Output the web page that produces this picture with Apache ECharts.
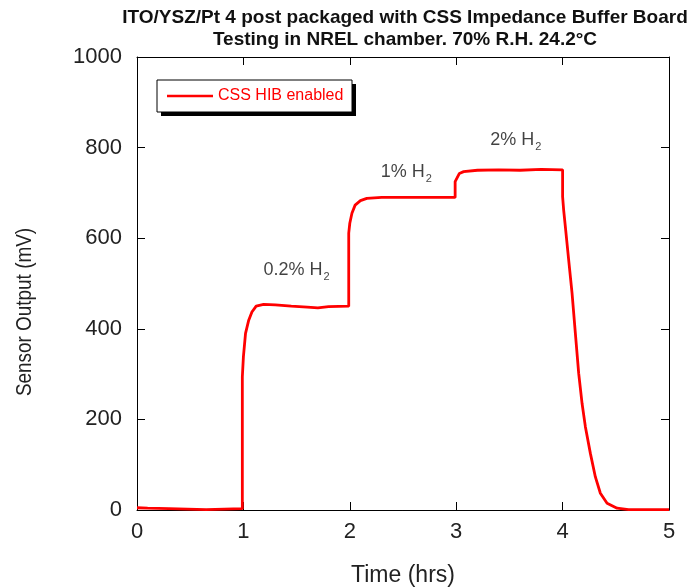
<!DOCTYPE html>
<html>
<head>
<meta charset="utf-8">
<script src="https://cdn.jsdelivr.net/npm/echarts@6/dist/echarts.min.js"></script>
<style>html,body{margin:0;padding:0;background:#fff}#c{width:690px;height:588px}</style>
</head>
<body>
<div id="c"></div>
<script>
// Time (hrs)
const times = [0, 0.1, 0.3, 0.31, 0.65, 0.66, 0.99, 0.99, 1.0, 1.02, 1.05, 1.08, 1.12, 1.19, 1.3, 1.45, 1.6, 1.7, 1.8, 1.99,
  1.99, 2.0, 2.02, 2.05, 2.1, 2.16, 2.3, 2.6, 2.8, 2.99,
  2.99, 3.03, 3.07, 3.2, 3.4, 3.6, 3.8, 4.0,
  4.0, 4.01, 4.026, 4.057, 4.089, 4.12, 4.151, 4.183, 4.214, 4.261, 4.308, 4.355, 4.418, 4.512, 4.62, 5.0];
// Sensor Output (mV)
const sensorMv = [5, 4, 3, 1, 1, 3, 3, 294, 338, 390, 419, 437, 450, 454, 453, 450, 448, 446, 449, 450,
  611, 633, 655, 673, 683, 688, 690, 690, 690, 690,
  725, 743, 747, 750, 751, 750, 752, 751,
  692, 662, 625, 552, 478, 390, 302, 235, 184, 125, 73, 37, 15, 4, 1, 1];
const seriesName = 'CSS HIB enabled';
const annLabels = ['0.2%', '1%', '2%'];
const annT = [1.5, 2.53, 3.56];
const annV = [530, 746, 817];

const chart = echarts.init(document.getElementById('c'));
const FONT = 'Liberation Sans, Arial, Helvetica, sans-serif';
const lineData = times.map((t, i) => [t, sensorMv[i]]);
const annData = annT.map((t, i) => ({ value: [t, annV[i]], name: annLabels[i] }));

const baseAxis = {
  axisLine: { show: true, onZero: false, lineStyle: { color: '#000', width: 1 } },
  axisTick: { show: true, inside: true, length: 8, lineStyle: { color: '#000' } },
  splitLine: { show: false }
};

chart.setOption({
  animation: false,
  backgroundColor: '#fff',
  title: {
    text: 'ITO/YSZ/Pt 4 post packaged with CSS Impedance Buffer Board\nTesting in NREL chamber. 70% R.H. 24.2°C',
    left: 405, top: 7, textAlign: 'center', padding: 0,
    textStyle: { fontFamily: FONT, fontSize: 19, fontWeight: 'bold', color: '#111', lineHeight: 22 }
  },
  graphic: [
    { type: 'rect', z: 0, shape: { x: 161, y: 84, width: 195, height: 32 }, style: { fill: '#000' } },
    { type: 'rect', z: 1, shape: { x: 157, y: 80, width: 195, height: 32 }, style: { fill: '#fff', stroke: '#000', lineWidth: 1 } },
    {
      type: 'text', z: 2, x: 25, y: 312, rotation: Math.PI / 2, scaleX: 0.86,
      style: { text: 'Sensor Output (mV)', fontFamily: FONT, fontSize: 22, fill: '#222', textAlign: 'center', textVerticalAlign: 'middle' }
    }
  ],
  legend: {
    data: [{ name: seriesName, icon: 'rect' }],
    left: 157, top: 80, orient: 'vertical', z: 10,
    itemWidth: 46, itemHeight: 2.5, itemGap: 0,
    padding: [8, 8, 8, 10],
    textStyle: { color: '#ff0000', fontFamily: FONT, fontSize: 16 }
  },
  grid: { left: 137, right: 21, top: 57, bottom: 78, containLabel: false, outerBoundsMode: 'none' },
  xAxis: [
    Object.assign({}, baseAxis, {
      type: 'value', min: 0, max: 5, interval: 1, position: 'bottom',
      name: 'Time (hrs)', nameLocation: 'middle', nameGap: 54,
      nameTextStyle: { fontFamily: FONT, fontSize: 23, color: '#222' },
      axisLabel: { fontFamily: FONT, fontSize: 22, color: '#222', margin: 11 }
    }),
    Object.assign({}, baseAxis, {
      type: 'value', min: 0, max: 5, interval: 1, position: 'top', axisLabel: { show: false }
    })
  ],
  yAxis: [
    Object.assign({}, baseAxis, {
      type: 'value', min: 0, max: 1000, interval: 200, position: 'left',
      axisLabel: { fontFamily: FONT, fontSize: 22, color: '#222', margin: 15, formatter: v => String(v) }
    }),
    Object.assign({}, baseAxis, {
      type: 'value', min: 0, max: 1000, interval: 200, position: 'right', axisLabel: { show: false }
    })
  ],
  series: [
    {
      name: seriesName, type: 'line', data: lineData,
      xAxisIndex: 0, yAxisIndex: 0,
      showSymbol: false, symbol: 'none',
      lineStyle: { color: '#ff0000', width: 2.8 },
      itemStyle: { color: '#ff0000' }
    },
    {
      name: 'annotations', type: 'scatter', data: annData,
      symbolSize: 0, silent: true,
      label: {
        show: true, position: 'inside',
        formatter: p => '{a|' + p.name + ' H}{s|2}',
        rich: {
          a: { fontFamily: FONT, fontSize: 18, color: '#111', lineHeight: 20 },
          s: { fontFamily: FONT, fontSize: 11, color: '#111', lineHeight: 20, padding: [14, 0, 0, 1] }
        }
      }
    }
  ]
});
</script>
</body>
</html>
